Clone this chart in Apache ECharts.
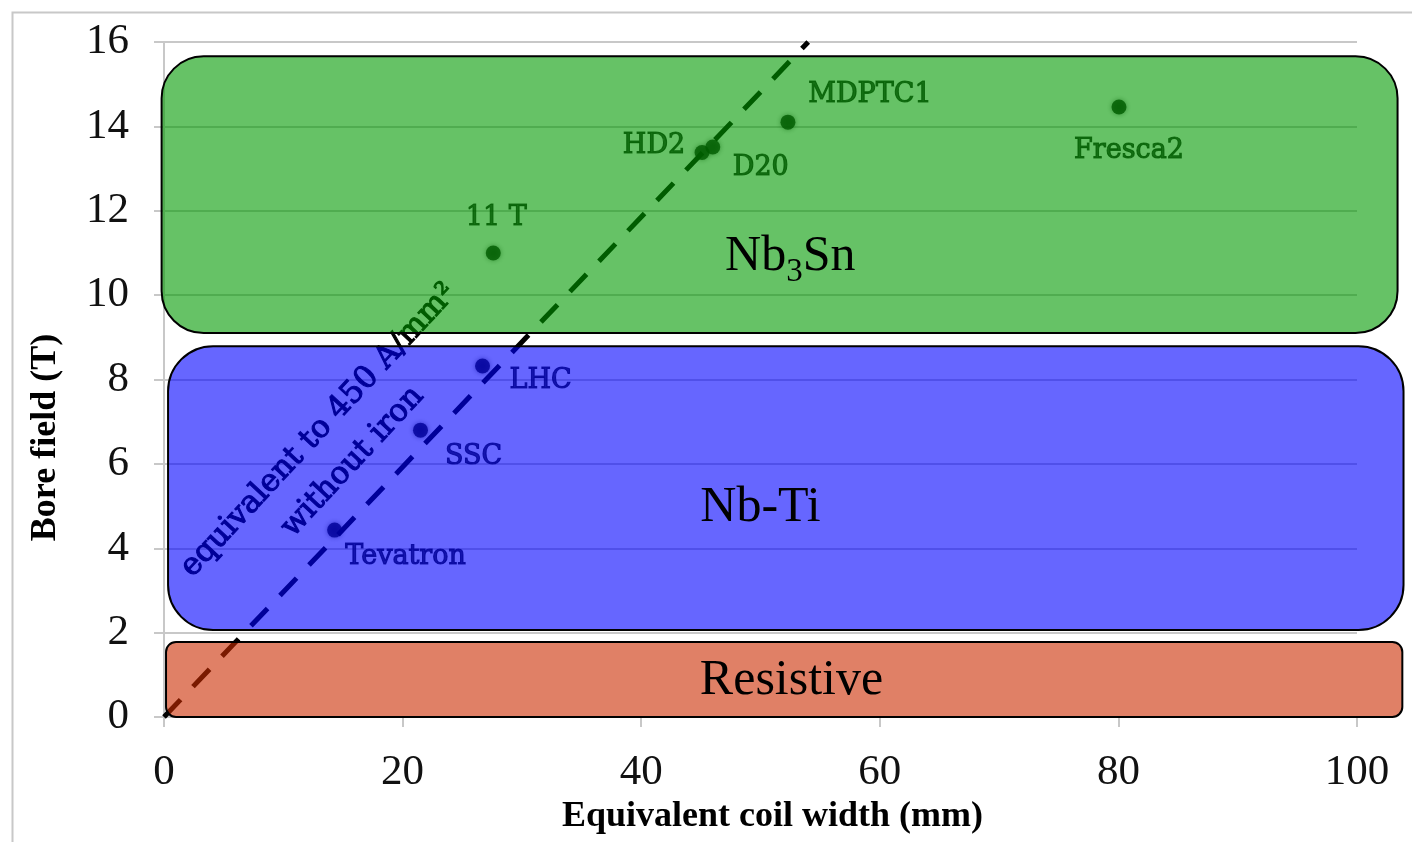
<!DOCTYPE html>
<html><head><meta charset="utf-8">
<script src="https://cdn.jsdelivr.net/npm/echarts@6/dist/echarts.min.js"></script>
<style>html,body{margin:0;padding:0;background:#fff}#c{width:1412px;height:842px}</style>
</head><body><div id="c"></div>
<script>
// ---- data ----
const magnetNames = ['Tevatron', 'SSC', 'LHC', '11 T', 'HD2', 'D20', 'MDPTC1', 'Fresca2'];
const coilWidth   = [14.3, 21.5, 26.7, 27.6, 45.1, 46.0, 52.3, 80.05];
const boreField   = [4.43, 6.8, 8.32, 11.0, 13.38, 13.51, 14.1, 14.46];

const limitLineX = [0, 54];
const limitLineY = [0, 16];
const limitLineText = 'equivalent to 450 A/mm²\nwithout iron';
const limitTextAt = [14.4, 6.42];

const regionNames  = ['Nb3Sn', 'Nb-Ti', 'Resistive'];
const regionX0     = [-0.2, 0.34, 0.17];
const regionX1     = [103.4, 103.9, 103.8];
const regionY0     = [9.1, 2.06, 0.0];
const regionY1     = [15.66, 8.79, 1.78];
const regionLabelX = [52.5, 50.0, 52.6];
const regionLabelY = [10.9, 4.95, 0.85];

const xTitle = 'Equivalent coil width (mm)';
const yTitle = 'Bore field (T)';
const xMin = 0, xMax = 100, xStep = 20;
const yMin = 0, yMax = 16, yStep = 2;

// ---- styles ----
const regionFill = ['rgba(0,153,0,0.6)', 'rgba(0,0,255,0.6)', 'rgba(203,43,0,0.6)'];
const regionRadius = [42, 45, 10];
const labelOffsets = {
  'Tevatron': [71, 27], 'SSC': [53, 27], 'LHC': [58, 15], '11 T': [3, -35],
  'HD2': [-48, -7], 'D20': [48, 21], 'MDPTC1': [82, -27], 'Fresca2': [10, 44]
};
const GRID = '#c8c8c8';

function formulaRich(name) {
  return '{a|' + name.replace(/(\d+)/g, '}{b|$1}{a|') + '}';
}

const chart = echarts.init(document.getElementById('c'), null, {renderer: 'canvas'});

const scatterData = magnetNames.map((n, i) => ({
  name: n,
  value: [coilWidth[i], boreField[i]],
  label: {offset: labelOffsets[n]}
}));

const regionData = regionNames.map((n, i) => [regionX0[i], regionX1[i], regionY0[i], regionY1[i], regionLabelX[i], regionLabelY[i], i]);

chart.setOption({
  backgroundColor: '#fff',
  animation: false,
  graphic: [{
    type: 'rect', left: 10, top: 10, z: -10,
    shape: {x: 0, y: 0, width: 1430, height: 860},
    style: {fill: 'none', stroke: GRID, lineWidth: 2}
  }],
  grid: {left: 164, right: 55, top: 42, bottom: 125, containLabel: false, outerBoundsMode: 'none'},
  xAxis: {
    type: 'value', min: xMin, max: xMax, interval: xStep,
    name: xTitle, nameLocation: 'middle', nameGap: 76,
    nameTextStyle: {fontFamily: 'Liberation Serif', fontWeight: 'bold', fontSize: 36, color: '#000', padding: [0, 0, 0, 24]},
    axisLine: {show: true, onZero: false, lineStyle: {color: GRID, width: 2}},
    axisTick: {show: true, length: 10, lineStyle: {color: GRID, width: 2}},
    splitLine: {show: false},
    axisLabel: {fontFamily: 'Liberation Serif', fontSize: 43, color: '#111', margin: 34}
  },
  yAxis: {
    type: 'value', min: yMin, max: yMax, interval: yStep,
    name: yTitle, nameLocation: 'middle', nameGap: 100, nameRotate: 90,
    nameTextStyle: {fontFamily: 'Liberation Serif', fontWeight: 'bold', fontSize: 36, color: '#000', padding: [0, 116, 0, 0]},
    axisLine: {show: true, onZero: false, lineStyle: {color: GRID, width: 2}},
    axisTick: {show: true, length: 10, lineStyle: {color: GRID, width: 2}},
    splitLine: {show: true, lineStyle: {color: GRID, width: 2}},
    axisLabel: {fontFamily: 'Liberation Serif', fontSize: 43, color: '#111', margin: 35}
  },
  series: [
    {
      type: 'line', z: 2, symbol: 'none', silent: true,
      data: limitLineX.map((x, i) => [x, limitLineY[i]]),
      lineStyle: {color: '#000', width: 5, type: [24, 18]}
    },
    {
      type: 'scatter', z: 3, symbolSize: 15,
      data: scatterData,
      itemStyle: {color: '#000', shadowBlur: 5, shadowColor: 'rgba(0,0,0,0.6)'},
      label: {
        show: true, position: 'inside', formatter: '{b}',
        fontFamily: 'DejaVu Serif', fontSize: 27, color: '#000',
        textBorderColor: '#000', textBorderWidth: 1.1
      }
    },
    {
      type: 'custom', z: 4, silent: true,
      data: [limitTextAt],
      encode: {x: 0, y: 1},
      renderItem: function (params, api) {
        const p = api.coord([api.value(0), api.value(1)]);
        return {
          type: 'text', x: p[0], y: p[1], rotation: 47 * Math.PI / 180,
          style: {
            text: limitLineText, fill: '#000', align: 'center', verticalAlign: 'middle',
            fontFamily: 'DejaVu Serif', fontSize: 31, lineHeight: 46,
            stroke: '#000', lineWidth: 1.1
          }
        };
      }
    },
    {
      type: 'custom', z: 10, silent: true, clip: false,
      data: regionData,
      encode: {x: [0, 1], y: [2, 3]},
      renderItem: function (params, api) {
        const i = api.value(6);
        const tl = api.coord([api.value(0), api.value(3)]);
        const br = api.coord([api.value(1), api.value(2)]);
        const lp = api.coord([api.value(4), api.value(5)]);
        return {
          type: 'group',
          children: [
            {
              type: 'rect',
              shape: {x: tl[0], y: tl[1], width: br[0] - tl[0], height: br[1] - tl[1], r: regionRadius[i]},
              style: {fill: regionFill[i], stroke: '#000', lineWidth: 2}
            },
            {
              type: 'text', x: lp[0], y: lp[1],
              style: {
                text: formulaRich(regionNames[i]), align: 'center', verticalAlign: 'middle',
                rich: {
                  a: {fontFamily: 'Liberation Serif', fontSize: 50, lineHeight: 50, fill: '#000', verticalAlign: 'middle'},
                  b: {fontFamily: 'Liberation Serif', fontSize: 33, lineHeight: 20, fill: '#000', verticalAlign: 'middle', padding: [30, 0, 0, 0]}
                }
              }
            }
          ]
        };
      }
    }
  ]
});
</script>
</body></html>
